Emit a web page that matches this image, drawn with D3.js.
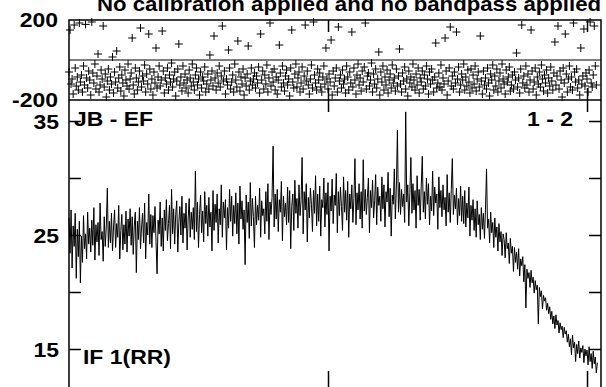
<!DOCTYPE html>
<html>
<head>
<meta charset="utf-8">
<script src="https://cdn.jsdelivr.net/npm/d3@7"></script>
<style>
body { margin: 0; background: #fff; }
svg { display: block; }
</style>
</head>
<body>
<svg class="chart"></svg>
<script>
var title = "No calibration applied and no bandpass applied";
var baselineLabel = "JB - EF";
var antennaLabel = "1 - 2";
var ifLabel = "IF 1(RR)";
var phaseTickLabels = [200, -200];
var ampTicks = [35, 30, 25, 20, 15];
var ampTickLabels = [35, 25, 15];
var chanTicks = [500, 1000];
var ampStep = 2;    // channels between amplitude samples
var phaseStep = 2;  // channels between phase samples

// amplitude, channel 0..1020 every 2 channels
var amplitude = [
  26.5,23.4,27.2,22.1,25.8,24.0,26.9,21.2,25.5,23.1,26.2,20.8,24.9,22.6,26.7,23.8,25.1,22.9,27.0,24.2,
  25.6,23.5,26.3,24.1,27.4,22.8,25.9,24.4,26.1,23.2,27.8,24.6,25.3,22.7,26.6,24.0,25.8,29.1,23.9,26.2,
  24.3,26.9,23.6,25.7,27.2,23.9,26.0,24.8,27.6,22.9,25.4,26.8,23.7,25.9,24.2,27.1,23.5,26.4,24.9,27.3,
  24.1,26.6,23.3,25.8,27.0,21.7,26.2,24.6,27.4,23.8,25.6,26.9,24.3,27.8,22.9,26.1,25.0,28.6,24.2,26.8,
  23.9,26.7,25.2,27.5,24.4,21.6,26.3,25.1,27.9,24.0,26.5,23.6,27.2,25.4,28.1,24.5,26.0,27.6,23.8,29.0,
  25.1,27.3,24.2,26.8,28.0,23.5,26.1,27.5,25.0,28.4,24.3,26.9,25.6,27.8,23.7,26.4,28.2,24.8,27.0,25.5,
  27.4,24.6,30.6,25.3,27.9,23.9,26.8,28.5,25.2,27.1,24.4,28.8,26.0,27.6,24.9,28.3,25.7,27.0,23.6,28.9,
  25.4,27.7,26.1,28.6,24.3,27.3,25.9,29.4,24.8,27.9,26.5,28.1,23.7,27.4,25.6,29.0,26.2,28.4,24.9,27.6,
  26.0,28.7,25.1,27.8,24.2,29.3,26.4,28.0,25.5,27.2,22.4,28.5,26.1,27.9,24.7,29.6,25.8,28.2,26.6,23.9,
  28.4,25.9,27.6,26.3,29.1,24.8,28.0,26.7,27.3,25.1,28.8,26.2,29.5,24.6,27.9,26.8,28.3,32.8,25.7,28.6,
  26.4,29.0,25.3,28.1,27.0,29.7,24.5,28.4,26.6,27.8,25.9,29.2,26.1,28.9,23.8,27.5,28.6,25.4,29.8,26.9,
  28.2,25.6,29.4,26.7,28.0,31.8,25.1,28.8,27.2,29.5,24.4,28.3,26.5,29.1,27.7,25.3,28.9,26.9,30.2,25.8,
  28.6,26.2,29.3,24.9,28.1,27.4,30.0,25.7,28.7,26.8,29.6,23.6,28.4,27.1,29.9,26.0,28.5,27.6,30.4,25.2,
  28.8,26.7,29.2,27.5,25.4,30.1,27.0,28.9,26.3,29.7,24.8,28.6,27.3,29.4,26.1,28.2,31.7,25.9,28.7,27.2,
  29.5,26.4,28.8,25.6,31.6,27.1,29.0,26.8,28.3,30.0,25.2,28.9,27.4,29.8,26.5,28.0,30.3,25.9,29.2,27.6,
  28.4,26.2,30.1,27.3,29.4,25.7,28.8,27.9,30.5,26.6,29.1,24.9,28.5,27.7,30.8,26.4,29.3,34.2,27.0,29.6,
  26.8,29.0,27.5,28.6,26.1,35.8,27.9,29.4,25.8,28.7,31.8,26.9,29.5,27.2,28.9,25.6,30.2,27.6,29.0,26.3,
  29.3,31.9,27.0,28.8,26.4,30.0,27.7,29.5,25.9,28.4,27.1,30.6,26.7,29.2,27.8,28.6,25.5,30.1,27.4,28.9,
  26.6,29.4,27.2,28.3,25.8,30.3,27.0,28.7,26.1,29.0,31.7,26.8,28.5,27.3,29.1,25.9,28.2,26.7,29.3,26.2,
  28.4,26.0,28.9,25.7,27.8,26.5,29.2,24.9,27.6,26.3,28.1,25.4,27.3,24.8,28.0,25.9,26.8,24.6,27.4,25.5,
  26.9,24.7,27.2,30.8,25.6,26.4,24.3,27.0,25.2,26.1,23.9,26.5,24.8,25.7,23.6,26.0,24.4,25.3,23.2,25.1,
  24.6,23.0,25.2,23.8,24.3,22.5,24.7,23.4,24.0,21.8,23.9,22.6,23.5,22.0,23.8,21.4,22.9,22.3,23.1,20.9,
  22.4,18.6,22.0,21.2,21.7,20.4,21.9,20.8,21.3,19.9,21.0,20.2,20.6,17.2,20.4,19.6,20.1,18.5,19.7,19.2,
  19.5,18.4,19.0,18.1,18.7,17.6,18.3,17.2,17.9,16.8,18.0,17.1,17.5,16.4,17.3,16.7,17.0,16.0,16.9,16.3,
  16.6,15.6,16.3,15.2,15.9,14.5,16.2,15.1,15.6,13.9,15.4,14.6,15.7,14.2,15.1,14.7,15.3,13.8,15.0,14.4,
  14.9,13.6,15.2,13.9,14.6,13.3,14.8,13.7,14.3,12.9,13.8
];

// phase (degrees), channel 0..1018 every 2 channels
var phase = [
  -60,150,-120,-95,-170,175,-40,-130,-85,-150,
  185,-110,-75,-160,-30,-125,178,-90,-140,-55,
  -100,-175,190,-65,-115,-20,-145,-80,30,-160,
  -125,-50,-95,170,-135,-70,-185,-105,-45,-150,
  -85,-120,15,-165,-60,-110,45,-140,-90,-35,
  -155,-75,-115,-180,-50,-100,-130,-20,-145,-95,
  -65,110,-125,-170,-40,-90,-150,-110,-55,160,
  -135,-80,-105,-25,-160,-70,-120,130,-45,-145,
  -95,-175,-60,-115,60,-140,-85,-30,-130,-100,
  145,-55,-165,-90,-120,-40,-150,-75,-110,-15,
  -135,-95,-60,-180,-105,-45,80,-125,-85,-155,
  -30,-115,-70,-140,-100,-165,-50,-90,-130,-20,
  -110,-150,-75,-40,-125,-95,-175,-60,-140,-85,
  -105,-35,-160,-120,-70,-145,25,-100,-55,-130,
  120,-90,-150,-65,-115,-30,-135,-80,170,-105,
  -55,-170,-95,-125,50,-40,-145,-110,-75,-160,
  -20,-100,-135,95,-60,-155,-85,-120,-45,-175,
  -90,-130,-70,70,-150,-105,-40,-125,-95,-65,
  -140,-80,-115,-35,-165,130,-100,-55,-145,-75,
  -120,-25,-160,-90,185,-130,-60,-110,-45,-150,
  -85,-170,-100,75,-65,-135,-30,-115,-155,-80,
  -50,-125,-95,-180,-40,150,-110,-140,-70,-20,
  -135,-90,-60,-160,-115,-35,-145,-80,175,-105,
  -55,-125,-170,-95,-25,-140,190,-75,-115,-150,
  -45,-100,-65,-135,-160,-85,-30,-120,60,-95,
  -145,-70,-110,100,-175,-55,-130,-90,-40,-160,
  165,-105,-75,-140,-50,-120,-95,-165,-30,-85,
  -150,-60,-115,140,-135,-40,-100,-170,-75,-20,
  -125,-90,-155,-55,-110,-35,185,-145,-80,-65,
  -130,-100,-15,-160,-70,-120,-45,-140,-95,40,
  -175,-60,-110,-30,-150,-85,-125,-50,-165,-100,
  -70,-140,-25,-115,-90,-155,-45,-130,-80,55,
  -120,-160,-65,-105,-35,-145,-95,-180,-55,-115,
  -85,-135,-20,-100,-150,-70,-125,-40,-165,-90,
  -110,-55,-145,-75,-130,-30,-95,-170,-60,-120,
  -45,-100,-160,-85,85,-140,-115,-65,-135,-25,
  -150,-90,-120,110,-55,-175,-105,-40,165,-130,
  -80,-145,-60,-115,140,-95,-35,-160,-125,-70,
  -100,-20,-150,-85,-130,-50,-110,-165,-45,-140,
  -75,-120,-30,-155,-95,-60,-135,120,-105,-170,
  -55,-125,-90,-145,-40,-115,-180,-70,-100,-25,
  -150,-80,-130,-45,-160,-105,-65,-140,-20,-95,
  -120,-170,-50,-110,-85,-35,-155,-125,-75,-145,
  -60,-100,35,-135,-90,-165,-45,175,-115,-80,
  -140,-30,-125,-70,-160,-100,150,-55,-145,-110,
  -40,-175,-85,-120,-60,-135,-25,-95,-155,-75,
  -115,-50,-165,-90,-130,-35,-105,-150,-65,90,
  -125,-80,170,-145,-55,-100,-185,-40,-115,130,
  -70,-160,-95,-30,-135,-85,-150,185,-60,-110,
  -45,-140,-100,-175,60,-120,-80,155,-130,-65,
  -95,-160,-50,190,-115,-135,-75,170,-30,-125
];

var svg = d3.select(".chart")
    .attr("width", 606)
    .attr("height", 387);

var x = d3.scaleLinear().domain([0, 1027]).range([69, 601]);
var yPhase = d3.scaleLinear().domain([-200, 200]).range([100, 20]);
var yAmp = d3.scaleLinear().domain([15, 35]).range([349, 121]);
var ampBottom = 389;

// bold helvetica-ish labels, a little wider than the stock font
function label(str, px, py, anchor, size, sx) {
  svg.append("g")
      .attr("transform", "translate(" + px + "," + py + ") scale(" + (sx || 1.12) + ",1)")
    .append("text")
      .attr("text-anchor", anchor)
      .attr("font-family", "'Liberation Sans', Arial, sans-serif")
      .attr("font-weight", "bold")
      .attr("font-size", size || 20.5)
      .attr("fill", "#000")
      .text(str);
}

// ---- phase panel ----
svg.append("rect")
    .attr("x", x.range()[0])
    .attr("y", yPhase(200))
    .attr("width", x.range()[1] - x.range()[0])
    .attr("height", yPhase(-200) - yPhase(200))
    .attr("fill", "none")
    .attr("stroke", "#000")
    .attr("stroke-width", 1.5);

svg.append("line")
    .attr("x1", x.range()[0]).attr("x2", x.range()[1])
    .attr("y1", yPhase(0)).attr("y2", yPhase(0))
    .attr("stroke", "#000")
    .attr("stroke-width", 1.2);

svg.append("g")
    .attr("transform", "translate(0," + yPhase(200) + ")")
    .call(d3.axisTop(x).tickValues(chanTicks).tickSize(-12).tickSizeOuter(0).tickFormat(""))
    .call(function(g) { g.select(".domain").remove(); });

svg.append("g")
    .attr("transform", "translate(0," + yPhase(-200) + ")")
    .call(d3.axisBottom(x).tickValues(chanTicks).tickSize(-12).tickSizeOuter(0).tickFormat(""))
    .call(function(g) { g.select(".domain").remove(); });

svg.append("g")
    .attr("class", "phase-points")
  .selectAll("path")
  .data(phase)
  .enter().append("path")
    .attr("d", function(d, i) {
      var px = x(i * phaseStep), py = yPhase(d);
      return "M" + (px - 4) + "," + py + "h8M" + px + "," + (py - 4) + "v8";
    })
    .attr("stroke", "#000")
    .attr("stroke-width", 1)
    .attr("fill", "none");

// ---- amplitude panel ----
svg.append("path")
    .attr("d", "M" + x.range()[0] + "," + ampBottom + "V" + yPhase(-200) +
               "M" + x.range()[1] + "," + yPhase(-200) + "V" + ampBottom)
    .attr("stroke", "#000")
    .attr("stroke-width", 1.5)
    .attr("fill", "none");

svg.append("g")
    .attr("transform", "translate(" + x.range()[0] + ",0)")
    .call(d3.axisLeft(yAmp).tickValues(ampTicks).tickSize(-12).tickSizeOuter(0).tickFormat(""))
    .call(function(g) { g.select(".domain").remove(); });

svg.append("g")
    .attr("transform", "translate(" + x.range()[1] + ",0)")
    .call(d3.axisRight(yAmp).tickValues(ampTicks).tickSize(-12).tickSizeOuter(0).tickFormat(""))
    .call(function(g) { g.select(".domain").remove(); });

svg.append("g")
    .attr("transform", "translate(0," + yPhase(-200) + ")")
    .call(d3.axisTop(x).tickValues(chanTicks).tickSize(-12).tickSizeOuter(0).tickFormat(""))
    .call(function(g) { g.select(".domain").remove(); });

svg.append("g")
    .attr("transform", "translate(0," + ampBottom + ")")
    .call(d3.axisBottom(x).tickValues(chanTicks).tickSize(-18).tickSizeOuter(0).tickFormat(""))
    .call(function(g) { g.select(".domain").remove(); });

svg.selectAll(".tick line")
    .attr("stroke", "#000")
    .attr("stroke-width", 1.5);

var line = d3.line()
    .x(function(d, i) { return x(i * ampStep); })
    .y(function(d) { return yAmp(d); });

svg.append("path")
    .datum(amplitude)
    .attr("d", line)
    .attr("fill", "none")
    .attr("stroke", "#000")
    .attr("stroke-width", 1);

// ---- text ----
label(title, 97, 11, "start", 20, 1.11);
phaseTickLabels.forEach(function(v) { label(v, 58, yPhase(v) + 7, "end"); });
ampTickLabels.forEach(function(v) { label(v, 59, yAmp(v) + 8, "end"); });
label(baselineLabel, 74, 126, "start");
label(antennaLabel, 573, 126, "end");
label(ifLabel, 83, 364, "start");
</script>
</body>
</html>
